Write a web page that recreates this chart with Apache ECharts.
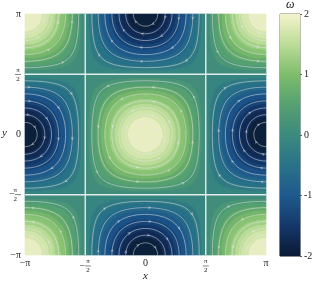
<!DOCTYPE html>
<html><head><meta charset="utf-8">
<script src="https://cdn.jsdelivr.net/npm/echarts@6/dist/echarts.min.js"></script>
<style>html,body{margin:0;padding:0;background:#fff}#c{width:317px;height:284px}</style>
</head><body><div id="c"></div>
<script>
// ---- data ----
const tickValues = [-Math.PI, -Math.PI / 2, 0, Math.PI / 2, Math.PI];
const xTickLabels = ['−π', '−π/2', '0', 'π/2', 'π'];
const yTickLabels = ['−π', '−π/2', '0', 'π/2', 'π'];
const cbTicks = [-2, -1, 0, 1, 2];
const omegaPeak = [2];                       // vorticity amplitude (colorbar range)
const contourLevels = [-2, -1.8, -1.6, -1.4, -1.2, -1, -0.8, -0.6, -0.4, -0.2, 0,
                       0.2, 0.4, 0.6, 0.8, 1, 1.2, 1.4, 1.6, 1.8, 2];
const streamLevels = [0.95, 0.87, 0.77, 0.64, 0.49, 0.33, 0.17];  // streamline psi levels
const vortexCentersX = [-Math.PI, 0, Math.PI];
const vortexCentersY = [-Math.PI, 0, Math.PI];
const separatrices = [-Math.PI / 2, Math.PI / 2];
const colorStops = ['#0b1a33', '#15386a', '#1f5a8e', '#2a7288', '#3d8a7f',
                    '#56a072', '#7dbd6b', '#bcdc98', '#f4f3cc'];

// ---- build field (Taylor-Green vorticity) ----
const A = omegaPeak[0];
const N = 241, M = 242;
const cats = Array.from({length: N}, (_, i) => i);
const cbCats = Array.from({length: M}, (_, i) => i);
function bandValue(w) {
  let k = 0;
  while (k < contourLevels.length - 2 && w >= contourLevels[k + 1]) k++;
  return (contourLevels[k] + contourLevels[k + 1]) / 2;
}
const heatData = [];
for (let i = 0; i < N; i++) {
  const x = -Math.PI + (i + 0.5) * 2 * Math.PI / N;
  for (let j = 0; j < N; j++) {
    const y = -Math.PI + (j + 0.5) * 2 * Math.PI / N;
    heatData.push([i, j, bandValue(A * Math.cos(x) * Math.cos(y))]);
  }
}
const cbData = cbCats.map(j => [0, j, -2 + (j + 0.5) * 4 / M]);

// ---- streamlines ----
function loopPts(cx, cy, c) {
  const pts = [];
  const K = 200;
  for (let t = 0; t <= K; t++) {
    const th = 2 * Math.PI * t / K;
    const ct = Math.cos(th), st = Math.sin(th);
    let lo = 0, hi = (Math.PI / 2) / Math.max(Math.abs(ct), Math.abs(st));
    for (let it = 0; it < 40; it++) {
      const r = (lo + hi) / 2;
      if (Math.cos(r * ct) * Math.cos(r * st) > c) lo = r; else hi = r;
    }
    const r = (lo + hi) / 2;
    pts.push([cx + r * ct, cy + r * st]);
  }
  return pts;
}
const streamSeries = [];
const arrowData = [];
vortexCentersX.forEach(cx => vortexCentersY.forEach(cy => {
  streamLevels.forEach((c, li) => {
    const pts = loopPts(cx, cy, c);
    streamSeries.push({
      type: 'line', xAxisIndex: 1, yAxisIndex: 1, data: pts, showSymbol: false,
      silent: true, clip: true, smooth: false,
      lineStyle: {color: 'rgba(232,232,232,0.7)', width: 0.7}
    });
    for (let q = 0; q < 4; q++) {
      const idx = Math.round(((li * 0.13 + 0.08 + q * 0.25) % 1) * 200);
      const p = pts[idx];
      if (Math.abs(p[0]) > Math.PI - 0.05 || Math.abs(p[1]) > Math.PI - 0.05) continue;
      const u = -Math.cos(p[0]) * Math.sin(p[1]);
      const v = Math.sin(p[0]) * Math.cos(p[1]);
      arrowData.push({value: p, symbolRotate: Math.atan2(v, u) * 180 / Math.PI - 90});
    }
  });
}));
separatrices.forEach(s => {
  streamSeries.push({type: 'line', xAxisIndex: 1, yAxisIndex: 1, showSymbol: false, silent: true,
    data: [[s, -Math.PI], [s, Math.PI]], lineStyle: {color: '#ffffff', width: 1.4, opacity: 0.85}});
  streamSeries.push({type: 'line', xAxisIndex: 1, yAxisIndex: 1, showSymbol: false, silent: true,
    data: [[-Math.PI, s], [Math.PI, s]], lineStyle: {color: '#ffffff', width: 1.4, opacity: 0.85}});
});

// ---- labels ----
const FONT = 'Liberation Serif';
const rich = {
  t: {fontFamily: FONT, fontSize: 10, color: '#222'},
  n: {fontFamily: FONT, fontSize: 7, color: '#222', width: 6, align: 'center', lineHeight: 7},
  d: {fontFamily: FONT, fontSize: 7, color: '#222', width: 6, align: 'center', lineHeight: 7},
  bar: {width: 6, height: 0.6, backgroundColor: '#333', lineHeight: 2, fontSize: 1},
  m: {fontFamily: FONT, fontSize: 10, color: '#222', lineHeight: 2},
  sp: {width: 5.6, fontSize: 1, lineHeight: 7}
};
function fmt(label, forX) {
  if (label.indexOf('/') < 0) return '{t|' + label + '}';
  const neg = label[0] === '−';
  const body = neg ? label.slice(1) : label;
  const [num, den] = body.split('/');
  const pre = (neg && forX) ? '{sp| }' : '';
  return pre + '{n|' + num + '}\n' + (neg ? '{m|−}' : '') + '{bar| }\n' + pre + '{d|' + den + '}';
}
function labelFor(arr, v) {
  const k = Math.round(v / (Math.PI / 2)) + 2;
  return arr[k];
}

const chart = echarts.init(document.getElementById('c'), null, {renderer: 'canvas'});
chart.setOption({
  animation: false,
  grid: [
    {left: 25, top: 14, width: 241, height: 241},
    {left: 25, top: 14, width: 241, height: 241},
    {left: 280, top: 14, width: 20, height: 242, show: true, borderColor: '#333', borderWidth: 0.8, backgroundColor: 'transparent'}
  ],
  xAxis: [
    {type: 'category', gridIndex: 0, data: cats, show: false},
    {type: 'value', gridIndex: 1, min: -Math.PI, max: Math.PI,
     axisLine: {show: false}, splitLine: {show: false},
     axisTick: {show: false, customValues: tickValues},
     axisLabel: {customValues: tickValues, margin: 3, formatter: v => fmt(labelFor(xTickLabels, v), true), rich: rich}},
    {type: 'category', gridIndex: 2, data: [0], show: false}
  ],
  yAxis: [
    {type: 'category', gridIndex: 0, data: cats, show: false},
    {type: 'value', gridIndex: 1, min: -Math.PI, max: Math.PI,
     axisLine: {show: false}, splitLine: {show: false},
     axisTick: {show: false, customValues: tickValues},
     axisLabel: {customValues: tickValues, margin: 4, formatter: v => fmt(labelFor(yTickLabels, v), false), rich: rich}},
    {type: 'category', gridIndex: 2, data: cbCats, show: false},
    {type: 'value', gridIndex: 2, position: 'right', min: -2, max: 2, interval: 1,
     axisLine: {show: false}, splitLine: {show: false},
     axisTick: {show: true, length: 2, lineStyle: {color: '#333', width: 0.8}},
     axisLabel: {margin: 4, fontFamily: FONT, fontSize: 10, color: '#222', formatter: v => String(v)}}
  ],
  visualMap: {type: 'continuous', show: false, min: -2, max: 2, dimension: 2,
    seriesIndex: [0, 1], inRange: {color: colorStops}},
  graphic: [
    {type: 'text', left: 143, top: 271, style: {text: 'x', font: 'italic 11px "Liberation Serif"', fill: '#222'}},
    {type: 'text', left: 2, top: 128, style: {text: 'y', font: 'italic 11px "Liberation Serif"', fill: '#222'}},
    {type: 'text', left: 286, top: -1, style: {text: 'ω', font: 'italic 12px "Liberation Serif"', fill: '#222'}}
  ],
  series: [
    {type: 'heatmap', xAxisIndex: 0, yAxisIndex: 0, data: heatData, progressive: 0, silent: true},
    {type: 'heatmap', xAxisIndex: 2, yAxisIndex: 2, data: cbData, progressive: 0, silent: true}
  ].concat(streamSeries).concat([
    {type: 'scatter', xAxisIndex: 1, yAxisIndex: 1, data: arrowData, symbol: 'arrow', symbolSize: [2.5, 3.5],
     silent: true, itemStyle: {color: 'rgba(235,235,235,0.6)'}}
  ])
});
</script></body></html>
